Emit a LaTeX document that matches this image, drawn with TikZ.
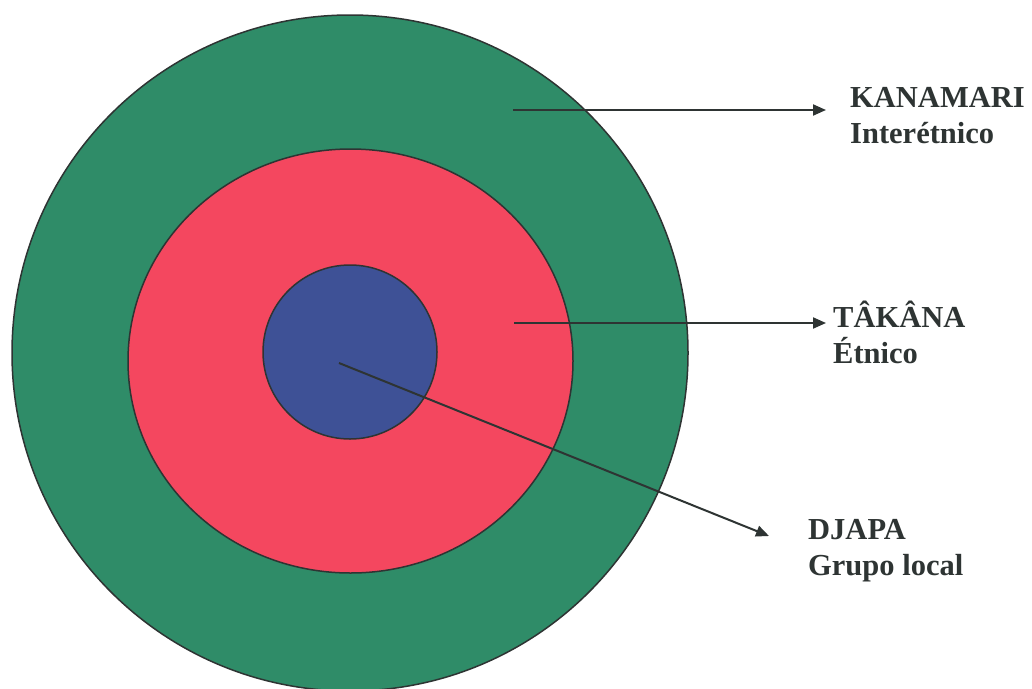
\documentclass[tikz,border=0pt]{standalone}
\usepackage{fontspec}
\setmainfont{Liberation Serif}
\usetikzlibrary{positioning,arrows.meta,shapes.geometric}
\definecolor{ringgreen}{HTML}{2F8C68}
\definecolor{ringred}{HTML}{F4475F}
\definecolor{ringblue}{HTML}{3E5196}
\definecolor{inkgray}{HTML}{2E3433}

\begin{document}
\begin{tikzpicture}[x=1pt,y=-1pt,
    ring/.style={draw=inkgray,line width=1.5pt,inner sep=0pt,outer sep=0pt},
    pointer/.style={draw=inkgray,line width=2pt,-{Triangle[length=13pt,width=11pt]}},
    tag/.style={text=inkgray,font=\fontsize{30.5}{36}\selectfont\bfseries,
                align=left,inner sep=0pt,anchor=base west}]
  \useasboundingbox[fill=white] (0,0) rectangle (1032,688);

  % the three levels
  \begin{scope}
    \clip (0,0) rectangle (1032,688);
    \node[ring,circle,fill=ringgreen,minimum size=676pt] (interetnico) at (350,353) {};
  \end{scope}
  \node[ring,ellipse,fill=ringred,minimum width=445pt,minimum height=424pt] (etnico) at (350.5,361) {};
  \node[ring,circle,fill=ringblue,minimum size=174pt] (local) at (350,352) {};

  % labels (base = last line)
  \node[tag] (kanamari) at (850,143) {KANAMARI\\Interétnico};
  \node[tag] (takana) at (833,363) {TÂKÂNA\\Étnico};
  \node[tag] (djapa) at (808,575) {DJAPA\\Grupo local};

  % arrows
  \coordinate (kanamari-from) at (513,110);
  \coordinate (kanamari-to) at (826,110);
  \coordinate (takana-from) at (514,323);
  \coordinate (takana-to) at (826,323);
  \coordinate (djapa-from) at (339,363);
  \coordinate (djapa-to) at (769,536);
  \draw[pointer] (kanamari-from) -- (kanamari-to);
  \draw[pointer] (takana-from) -- (takana-to);
  \draw[pointer] (djapa-from) -- (djapa-to);
\end{tikzpicture}
\end{document}
